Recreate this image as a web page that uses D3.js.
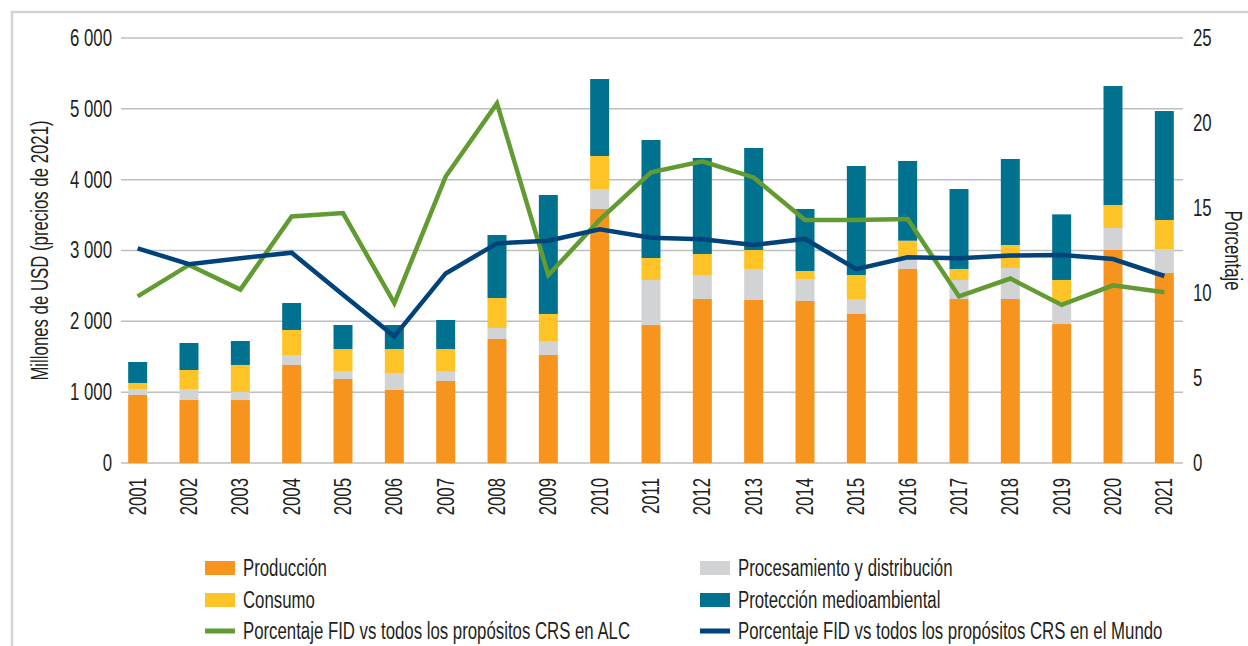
<!DOCTYPE html>
<html>
<head>
<meta charset="utf-8">
<script src="https://cdn.jsdelivr.net/npm/d3@7"></script>
<style>
  html, body { margin: 0; padding: 0; background: #fff; }
  #chart { width: 1248px; height: 646px; }
  svg text { font-family: "Liberation Sans", Arial, sans-serif; fill: #231f20; }
  .grid line { stroke: #bcbec0; stroke-width: 1.5; }
  .frame { stroke: #d1d3d4; stroke-width: 2.5; fill: none; }
  .pct_line { fill: none; stroke-width: 4.5; stroke-linejoin: miter; }
</style>
</head>
<body>
<div id="chart"></div>
<script>
var years = ["2001", "2002", "2003", "2004", "2005", "2006", "2007", "2008", "2009", "2010",
  "2011", "2012", "2013", "2014", "2015", "2016", "2017", "2018", "2019", "2020", "2021"]

// Millones de USD (precios de 2021), one value per year
var produccion = [960, 889, 889, 1384, 1186, 1031, 1158, 1751, 1525, 3586,
  1948, 2315, 2301, 2287, 2104, 2739, 2315, 2315, 1962, 3007, 2682]
var procesamiento = [85, 156, 113, 141, 113, 240, 141, 155, 197, 282,
  636, 339, 438, 311, 211, 141, 269, 438, 297, 311, 339]
var consumo = [85, 268, 382, 353, 310, 338, 310, 423, 382, 466,
  310, 297, 268, 113, 339, 258, 155, 325, 325, 324, 410]
var proteccion = [296, 381, 338, 381, 339, 339, 410, 890, 1680, 1087,
  1666, 1355, 1440, 875, 1539, 1126, 1129, 1214, 926, 1680, 1538]

// Porcentaje
var pct_alc = [9.8, 11.65, 10.2, 14.5, 14.7, 9.4, 16.85, 21.15, 11.05, 14.3,
  17.1, 17.75, 16.8, 14.3, 14.3, 14.35, 9.8, 10.85, 9.3, 10.45, 10.05]
var pct_mundo = [12.63, 11.69, 12.04, 12.37, 9.9, 7.45, 11.15, 12.92, 13.08, 13.75,
  13.25, 13.16, 12.82, 13.18, 11.4, 12.1, 12.04, 12.2, 12.24, 12.0, 11.0]

var left_ticks = [0, 1000, 2000, 3000, 4000, 5000, 6000]
var right_ticks = [0, 5, 10, 15, 20, 25]

var bar_series = [
  { "name": "Producción", "values": produccion, "color": "#f7941e" },
  { "name": "Procesamiento y distribución", "values": procesamiento, "color": "#d1d3d4" },
  { "name": "Consumo", "values": consumo, "color": "#fec326" },
  { "name": "Protección medioambiental", "values": proteccion, "color": "#00718f" }
]
var line_series = [
  { "name": "Porcentaje FID vs todos los propósitos CRS en ALC", "values": pct_alc, "color": "#619b32" },
  { "name": "Porcentaje FID vs todos los propósitos CRS en el Mundo", "values": pct_mundo, "color": "#00427a" }
]

var ComboChart = function(domContainer) {
  var _self = this

  _self.container = d3.select(domContainer)
  _self.width = 1248
  _self.height = 646

  _self.svg = _self.container.append("svg")
    .attr("width", _self.width)
    .attr("height", _self.height)

  _self.dims = {
    "plot_left": 121,
    "plot_right": 1183,
    "plot_top": 38,
    "plot_bottom": 463,
    "font_size": 23,
    "narrow": 0.73 // the original uses a condensed face
  }

  _self.initScales()
  _self.drawFrame()
  _self.drawGrid()
  _self.drawBars()
  _self.drawLines()
  _self.drawAxes()
  _self.drawLegend()
  _self.condenseText()
}

ComboChart.prototype.initScales = function initScales() {
  var _self = this
  var d = _self.dims

  _self.x = d3.scaleBand()
    .domain(years)
    .range([112, 1190])
    .paddingInner(0.63)
    .paddingOuter(0.315)

  _self.yLeft = d3.scaleLinear()
    .domain([0, 6000])
    .range([d.plot_bottom, d.plot_top])

  _self.yRight = d3.scaleLinear()
    .domain([0, 25])
    .range([d.plot_bottom, d.plot_top])
}

ComboChart.prototype.drawFrame = function drawFrame() {
  var _self = this
  _self.svg.append("path")
    .attr("class", "frame")
    .attr("d", "M12," + _self.height + "V12H" + _self.width)
}

ComboChart.prototype.drawGrid = function drawGrid() {
  var _self = this
  var d = _self.dims

  _self.svg.append("g")
    .attr("class", "grid")
    .selectAll("line")
    .data(left_ticks)
    .join("line")
      .attr("x1", d.plot_left)
      .attr("x2", d.plot_right)
      .attr("y1", function (t) { return _self.yLeft(t) })
      .attr("y2", function (t) { return _self.yLeft(t) })
}

ComboChart.prototype.drawBars = function drawBars() {
  var _self = this

  var rows = years.map(function (y, i) {
    var row = { "year": y }
    bar_series.forEach(function (s) { row[s.name] = s.values[i] })
    return row
  })
  var stacked = d3.stack().keys(bar_series.map(function (s) { return s.name }))(rows)

  var g = _self.svg.append("g").attr("class", "bars")
  stacked.forEach(function (layer, k) {
    g.append("g")
      .attr("fill", bar_series[k].color)
      .selectAll("rect")
      .data(layer)
      .join("rect")
        .attr("x", function (v) { return _self.x(v.data.year) })
        .attr("width", _self.x.bandwidth())
        .attr("y", function (v) { return _self.yLeft(v[1]) })
        .attr("height", function (v) { return _self.yLeft(v[0]) - _self.yLeft(v[1]) })
  })
}

ComboChart.prototype.drawLines = function drawLines() {
  var _self = this
  var half = _self.x.bandwidth() / 2

  var line = d3.line()
    .x(function (v, i) { return _self.x(years[i]) + half })
    .y(function (v) { return _self.yRight(v) })

  line_series.forEach(function (s) {
    _self.svg.append("path")
      .attr("class", "pct_line")
      .attr("stroke", s.color)
      .attr("d", line(s.values))
  })
}

ComboChart.prototype.drawAxes = function drawAxes() {
  var _self = this
  var d = _self.dims
  var fmt = function (v) { return d3.format(",")(v).replace(/,/g, " ") }

  var left = _self.svg.append("g")
    .attr("transform", "translate(" + (d.plot_left - 9) + ",0)")
    .call(d3.axisLeft(_self.yLeft).tickValues(left_ticks).tickFormat(fmt).tickSize(0).tickPadding(0))
  left.select(".domain").remove()
  left.selectAll("text").attr("font-size", d.font_size).style("font-family", null)

  var right = _self.svg.append("g")
    .attr("transform", "translate(" + (d.plot_right + 10) + ",0)")
    .call(d3.axisRight(_self.yRight).tickValues(right_ticks).tickSize(0).tickPadding(0))
  right.select(".domain").remove()
  right.selectAll("text").attr("font-size", d.font_size).style("font-family", null)

  var bottom = _self.svg.append("g")
    .attr("transform", "translate(0," + d.plot_bottom + ")")
    .call(d3.axisBottom(_self.x).tickSize(0).tickPadding(0))
  bottom.select(".domain").remove()
  bottom.selectAll("text")
    .attr("font-size", d.font_size)
    .style("font-family", null)
    .attr("text-anchor", "end")
    .attr("transform", "rotate(-90)")
    .attr("x", -15)
    .attr("y", 0)
    .attr("dy", "0.35em")

  _self.svg.append("text")
    .attr("transform", "translate(48," + ((d.plot_top + d.plot_bottom) / 2) + ") rotate(-90)")
    .attr("text-anchor", "middle")
    .attr("font-size", d.font_size)
    .text("Millones de USD (precios de 2021)")

  _self.svg.append("text")
    .attr("transform", "translate(1225," + ((d.plot_top + d.plot_bottom) / 2) + ") rotate(90)")
    .attr("text-anchor", "middle")
    .attr("font-size", d.font_size)
    .text("Porcentaje")
}

ComboChart.prototype.drawLegend = function drawLegend() {
  var _self = this

  var items = [
    { "s": bar_series[0], "type": "box" },
    { "s": bar_series[1], "type": "box" },
    { "s": bar_series[2], "type": "box" },
    { "s": bar_series[3], "type": "box" },
    { "s": line_series[0], "type": "line" },
    { "s": line_series[1], "type": "line" }
  ]
  var cols = [205, 700]
  var rows = [568, 600, 631]

  var g = _self.svg.append("g").attr("class", "legend")
  items.forEach(function (item, i) {
    var lx = cols[i % 2]
    var cy = rows[Math.floor(i / 2)]
    var h = (item.type === "box") ? 14 : 5
    g.append("rect")
      .attr("x", lx).attr("y", cy - h / 2)
      .attr("width", 30).attr("height", h)
      .attr("fill", item.s.color)
    g.append("text")
      .attr("x", lx + 38)
      .attr("y", cy)
      .attr("dy", "0.35em")
      .attr("font-size", _self.dims.font_size)
      .text(item.s.name)
  })
}

// squeeze every label along its own x axis to mimic the condensed typeface
ComboChart.prototype.condenseText = function condenseText() {
  var _self = this
  var k = _self.dims.narrow
  _self.svg.selectAll("text").each(function () {
    var el = d3.select(this)
    var t = el.attr("transform") || ""
    var x = +el.attr("x") || 0
    el.attr("x", x / k)
      .attr("transform", (t + " scale(" + k + ",1)").trim())
  })
}

new ComboChart(document.getElementById("chart"))
</script>
</body>
</html>
